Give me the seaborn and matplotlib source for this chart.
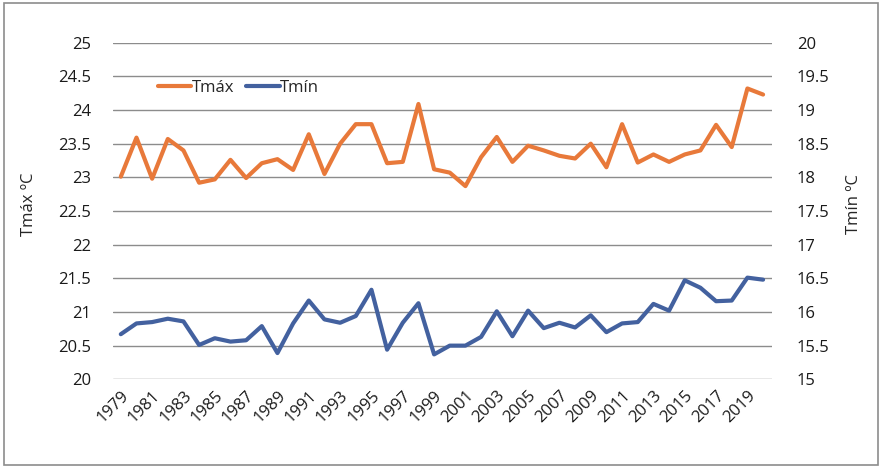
import matplotlib
matplotlib.use("Agg")
import matplotlib.pyplot as plt
import seaborn as sns
import pandas as pd
from matplotlib.patches import Rectangle

# Datos
anios = list(range(1979, 2021))
tmax = [23.01, 23.59, 22.98, 23.57, 23.40, 22.92, 22.97, 23.26, 22.99, 23.21,
        23.27, 23.11, 23.64, 23.05, 23.50, 23.79, 23.79, 23.21, 23.23, 24.09,
        23.12, 23.07, 22.87, 23.30, 23.60, 23.23, 23.47, 23.40, 23.32, 23.28,
        23.50, 23.15, 23.79, 23.22, 23.34, 23.23, 23.34, 23.40, 23.78, 23.45,
        24.32, 24.23]
tmin = [15.67, 15.83, 15.85, 15.90, 15.86, 15.51, 15.61, 15.56, 15.58, 15.79,
        15.39, 15.83, 16.17, 15.89, 15.84, 15.94, 16.33, 15.44, 15.84, 16.13,
        15.37, 15.50, 15.50, 15.63, 16.01, 15.64, 16.02, 15.76, 15.84, 15.77,
        15.95, 15.70, 15.83, 15.85, 16.12, 16.02, 16.47, 16.36, 16.16, 16.17,
        16.51, 16.48]
ticks_izq = [20, 20.5, 21, 21.5, 22, 22.5, 23, 23.5, 24, 24.5, 25]
ticks_der = [15, 15.5, 16, 16.5, 17, 17.5, 18, 18.5, 19, 19.5, 20]
anios_etiqueta = list(range(1979, 2020, 2))

df = pd.DataFrame({'anio': anios, 'Tmáx': tmax, 'Tmín': tmin})

sns.set_style('white')
plt.rcParams['font.family'] = ['Open Sans', 'DejaVu Sans']

naranja = '#E8793A'
azul = '#43619F'
fs = 12

fig = plt.figure(figsize=(8.84, 4.72), dpi=100)
ax1 = fig.add_axes([0.1278, 0.1964, 0.7455, 0.7131])
ax2 = ax1.twinx()

sns.lineplot(data=df, x='anio', y='Tmáx', color=naranja, linewidth=3, ax=ax1, label='Tmáx', legend=False)
sns.lineplot(data=df, x='anio', y='Tmín', color=azul, linewidth=3, ax=ax2, label='Tmín', legend=False)

ax1.set_ylim(20, 25)
ax2.set_ylim(15, 20)
ax1.set_xlim(1978.5, 2020.57)
ax1.set_yticks(ticks_izq)
ax1.set_yticklabels([f'{t:g}' for t in ticks_izq])
ax2.set_yticks(ticks_der)
ax2.set_yticklabels([f'{t:g}' for t in ticks_der])
ax1.set_xticks(anios_etiqueta)
ax1.set_xticklabels([str(a) for a in anios_etiqueta], rotation=45, ha='right',
                    rotation_mode='anchor')

ax1.grid(True, axis='y', color='#8c8c8c', linewidth=1)
ax1.set_axisbelow(True)
for ax in (ax1, ax2):
    for s in ax.spines.values():
        s.set_visible(False)
    ax.tick_params(length=0, labelsize=fs, colors='#1a1a1a')
ax1.tick_params(axis='y', pad=16)
ax2.tick_params(axis='y', pad=18)
ax1.tick_params(axis='x', pad=6)

ax1.set_xlabel('')
ax1.set_ylabel('Tmáx ºC', fontsize=fs)
ax2.set_ylabel('Tmín ºC', fontsize=fs, rotation=90)
ax2.yaxis.set_label_coords(1.113, 0.52)
ax1.yaxis.set_label_coords(-0.115, 0.52)

h1, l1 = ax1.get_legend_handles_labels()
h2, l2 = ax2.get_legend_handles_labels()
ax2.legend(h1 + h2, l1 + l2, loc='center left', bbox_to_anchor=(0.058, 0.865),
           ncol=2, frameon=False, fontsize=fs, handlelength=2.0,
           handletextpad=0.05, columnspacing=0.7, borderaxespad=0)

fig.patches.append(Rectangle((4 / 884, 7 / 472), 874 / 884, 462 / 472,
                             transform=fig.transFigure, fill=False,
                             edgecolor='#8c8c8c', linewidth=1.2))

fig.savefig('out.png', dpi=100)
